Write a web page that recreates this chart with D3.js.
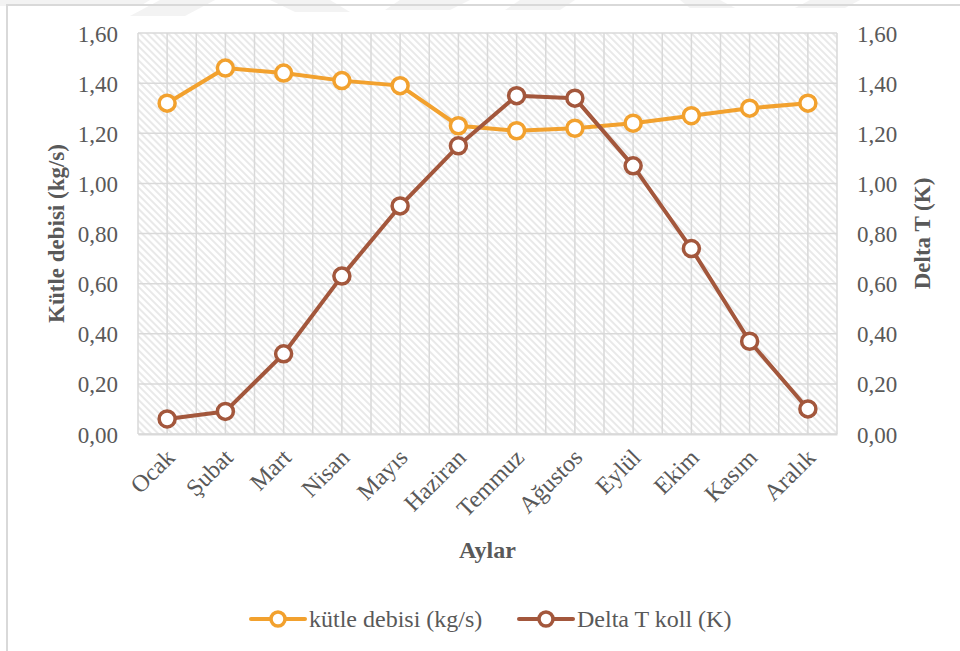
<!DOCTYPE html>
<html>
<head>
<meta charset="utf-8">
<script src="https://cdn.jsdelivr.net/npm/d3@7"></script>
<style>
  html, body { margin: 0; padding: 0; background: #fff; }
  svg { display: block; }
  text { font-family: "Liberation Serif", "Times New Roman", serif; fill: #595959; }
</style>
</head>
<body>
<svg id="chart" width="960" height="651"></svg>
<script>
// Monthly values
const months = ["Ocak", "Şubat", "Mart", "Nisan", "Mayıs", "Haziran", "Temmuz", "Ağustos", "Eylül", "Ekim", "Kasım", "Aralık"];
const massFlow = [1.32, 1.46, 1.44, 1.41, 1.39, 1.23, 1.21, 1.22, 1.24, 1.27, 1.30, 1.32];
const deltaT = [0.06, 0.09, 0.32, 0.63, 0.91, 1.15, 1.35, 1.34, 1.07, 0.74, 0.37, 0.10];
const yTicks = [0, 0.2, 0.4, 0.6, 0.8, 1.0, 1.2, 1.4, 1.6];
const seriesNames = ["kütle debisi (kg/s)", "Delta T koll (K)"];
const seriesColors = ["#F2A12E", "#A3573C"];

const svg = d3.select("#chart");
const margin = { left: 138, right: 123, top: 33, bottom: 217 };
const W = 960, H = 651;
const pw = W - margin.left - margin.right;
const ph = H - margin.top - margin.bottom;

// Faint page mark along the top edge
const topMarks = [
  [[0, 0], [150, 0], [140, 6], [0, 6]],
  [[160, 0], [215, 0], [185, 16], [130, 16]],
  [[270, 0], [330, 0], [350, 12], [295, 12]],
  [[400, 0], [470, 0], [450, 10], [385, 10]],
  [[520, 0], [575, 0], [560, 10], [505, 10]],
  [[680, 0], [720, 0], [735, 8], [690, 8]],
  [[810, 0], [860, 0], [845, 8], [795, 8]]
];
svg.selectAll(".mark").data(topMarks).join("polygon")
  .attr("points", d => d.map(p => p.join(",")).join(" "))
  .attr("fill", "#f3f3f3");

// Outer chart frame
svg.append("path")
  .attr("d", "M7,660 L7,5 L970,5")
  .attr("fill", "none").attr("stroke", "#d9d9d9").attr("stroke-width", 2);

// Diagonal hatch fill for the plot area
const defs = svg.append("defs");
const pat = defs.append("pattern")
  .attr("id", "hatch").attr("patternUnits", "userSpaceOnUse")
  .attr("width", 5).attr("height", 5)
  .attr("patternTransform", "rotate(-45)");
pat.append("rect").attr("width", 5).attr("height", 5).attr("fill", "#ffffff");
pat.append("line").attr("x1", 1).attr("y1", 0).attr("x2", 1).attr("y2", 5)
  .attr("stroke", "#e0e0e0").attr("stroke-width", 1.4);

const g = svg.append("g").attr("transform", `translate(${margin.left},${margin.top})`);

const x = d3.scaleBand().domain(months).range([0, pw]);
const yL = d3.scaleLinear().domain([0, 1.6]).range([ph, 0]);
const yR = d3.scaleLinear().domain([0, 1.6]).range([ph, 0]);
const fmt = d => d3.format(".2f")(d).replace(".", ",");

g.append("rect").attr("width", pw).attr("height", ph).attr("fill", "url(#hatch)");

// Vertical gridlines at category boundaries and centres
const vLines = [];
months.forEach(m => { vLines.push(x(m)); vLines.push(x(m) + x.bandwidth() / 2); });
vLines.push(pw);
g.selectAll(".vgrid").data(vLines).join("line")
  .attr("x1", d => d).attr("x2", d => d).attr("y1", 0).attr("y2", ph)
  .attr("stroke", "#d9d9d9").attr("stroke-width", 1.5);

// Horizontal gridlines
g.selectAll(".hgrid").data(yTicks).join("line")
  .attr("x1", 0).attr("x2", pw).attr("y1", d => yL(d)).attr("y2", d => yL(d))
  .attr("stroke", "#d9d9d9").attr("stroke-width", 1.5);

// Left axis
const axL = g.append("g").call(d3.axisLeft(yL).tickValues(yTicks).tickFormat(fmt).tickSize(0).tickPadding(20));
axL.select(".domain").remove();
axL.selectAll("text").style("font-size", "23px").attr("fill", "#595959")
  .style("font-family", "Liberation Serif").attr("dy", "0.35em");

// Right axis
const axR = g.append("g").attr("transform", `translate(${pw},0)`)
  .call(d3.axisRight(yR).tickValues(yTicks).tickFormat(fmt).tickSize(0).tickPadding(20));
axR.select(".domain").remove();
axR.selectAll("text").style("font-size", "23px").attr("fill", "#595959")
  .style("font-family", "Liberation Serif").attr("dy", "0.35em");

// Bottom axis with rotated month labels
const axB = g.append("g").attr("transform", `translate(0,${ph})`)
  .call(d3.axisBottom(x).tickSize(0));
axB.select(".domain").attr("stroke", "#d9d9d9").attr("stroke-width", 2);
axB.selectAll("text")
  .style("font-size", "24px").attr("fill", "#595959").style("font-family", "Liberation Serif")
  .attr("text-anchor", "end").attr("dy", null).attr("y", 0)
  .attr("transform", "translate(9,25) rotate(-45)");

// Axis titles
svg.append("text").attr("transform", `translate(64,${margin.top + ph / 2}) rotate(-90)`)
  .attr("text-anchor", "middle").style("font-size", "23px").style("font-weight", "bold")
  .text("Kütle debisi (kg/s)");
svg.append("text").attr("transform", `translate(930,${margin.top + ph / 2}) rotate(-90)`)
  .attr("text-anchor", "middle").style("font-size", "23px").style("font-weight", "bold")
  .text("Delta T (K)");
svg.append("text").attr("x", margin.left + pw / 2).attr("y", 558)
  .attr("text-anchor", "middle").style("font-size", "24px").style("font-weight", "bold")
  .text("Aylar");

// Series lines with hollow markers
const series = [
  { name: seriesNames[0], values: massFlow, y: yL, color: seriesColors[0] },
  { name: seriesNames[1], values: deltaT, y: yR, color: seriesColors[1] }
];
series.forEach(s => {
  const line = d3.line().x((d, i) => x(months[i]) + x.bandwidth() / 2).y(d => s.y(d));
  g.append("path").datum(s.values).attr("d", line)
    .attr("fill", "none").attr("stroke", s.color).attr("stroke-width", 4)
    .attr("stroke-linejoin", "round");
  g.selectAll(null).data(s.values).join("circle")
    .attr("cx", (d, i) => x(months[i]) + x.bandwidth() / 2).attr("cy", d => s.y(d))
    .attr("r", 8).attr("fill", "#fff").attr("stroke", s.color).attr("stroke-width", 3.5);
});

// Legend
const legendX = [251, 519];
series.forEach((s, i) => {
  const lg = svg.append("g").attr("transform", `translate(${legendX[i]},619)`);
  lg.append("line").attr("x1", 0).attr("x2", 54).attr("y1", 0).attr("y2", 0)
    .attr("stroke", s.color).attr("stroke-width", 4).attr("stroke-linecap", "round");
  lg.append("circle").attr("cx", 27).attr("cy", 0).attr("r", 7)
    .attr("fill", "#fff").attr("stroke", s.color).attr("stroke-width", 3.5);
  lg.append("text").attr("x", 58).attr("y", 0).attr("dy", "0.35em")
    .style("font-size", "24px").text(s.name);
});
</script>
</body>
</html>
